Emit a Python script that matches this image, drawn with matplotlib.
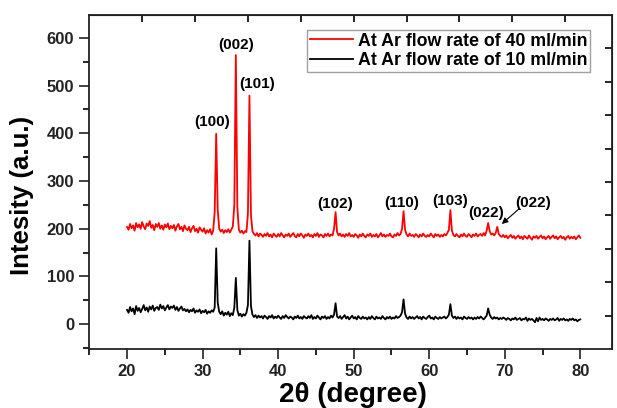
import numpy as np
import matplotlib
matplotlib.use("Agg")
import matplotlib.pyplot as plt

plt.rcParams['font.family'] = ['Liberation Sans', 'DejaVu Sans']
plt.rcParams['font.weight'] = 'bold'

# 2theta grid, 0.2 degree step from 20 to 80
two_theta = np.linspace(20.0, 80.0, 301)

# Ar flow 40 ml/min (red)
ar40 = [
    204, 198, 210, 201, 207, 196, 212, 203, 209, 200,
    214, 205, 199, 211, 206, 216, 202, 208, 197, 210,
    204, 212, 200, 207, 198, 209, 203, 211, 199, 206,
    201, 208, 196, 205, 210, 199, 204, 195, 207, 200,
    197, 204, 193, 201, 206, 195, 200, 192, 203, 198,
    194, 201, 190, 197, 192, 199, 188, 196, 235, 399,
    240, 200, 194, 198, 191, 197, 193, 199, 192, 198,
    205, 250, 564, 245, 198, 192, 196, 190, 195, 193,
    232, 479, 228, 195, 189, 186, 191, 184, 190, 187,
    183, 189, 185, 191, 184, 188, 182, 190, 186, 183,
    189, 184, 191, 186, 182, 188, 185, 190, 183, 187,
    191, 185, 182, 189, 184, 190, 186, 181, 188, 185,
    190, 184, 187, 182, 189, 185, 191, 183, 188, 186,
    182, 189, 185, 190, 184, 188, 186, 200, 235, 193,
    186, 190, 184, 188, 183, 189, 185, 191, 184, 187,
    183, 189, 186, 181, 188, 184, 190, 185, 182, 188,
    185, 190, 183, 187, 184, 189, 182, 186, 191, 184,
    188, 183, 187, 185, 190, 184, 182, 188, 185, 191,
    186, 189, 200, 237, 198, 188, 184, 190, 185, 187,
    183, 189, 186, 182, 188, 184, 190, 185, 183, 187,
    184, 190, 186, 182, 189, 185, 188, 183, 187, 184,
    189, 186, 191, 198, 239, 196, 187, 184, 189, 185,
    182, 188, 184, 190, 185, 183, 189, 186, 182, 188,
    185, 190, 184, 187, 189, 185, 191, 186, 196, 212,
    195, 188, 190, 186, 191, 204, 189, 185, 183, 187,
    182, 186, 180, 184, 187, 181, 185, 179, 183, 186,
    180, 184, 178, 185, 182, 179, 186, 181, 177, 184,
    181, 185, 179, 183, 186, 180, 184, 178, 182, 185,
    179, 183, 186, 180, 184, 178, 182, 185, 180, 183,
    177, 182, 185, 179, 183, 180, 184, 178, 182, 186,
    181,
]

# Ar flow 10 ml/min (black)
ar10 = [
    30, 24, 36, 27, 33, 21, 38, 28, 34, 25,
    32, 40, 29, 35, 26, 37, 31, 39, 28, 34,
    36, 30, 41, 33, 38, 29, 35, 40, 31, 37,
    34, 39, 30, 36, 28, 33, 37, 29, 32, 27,
    31, 25, 30, 27, 33, 24, 29, 26, 31, 23,
    28, 25, 30, 22, 27, 24, 29, 26, 35, 159,
    45, 26, 21, 27, 18, 24, 20, 26, 17, 23,
    19, 35, 97, 30, 18, 22, 16, 21, 18, 24,
    40, 175, 38, 20, 15, 19, 13, 18, 14, 17,
    12, 18, 15, 11, 17, 14, 19, 12, 16, 13,
    18, 14, 11, 17, 13, 19, 15, 12, 16, 14,
    10, 16, 13, 18, 12, 15, 11, 17, 14, 12,
    17, 13, 19, 11, 15, 12, 18, 14, 10, 16,
    13, 17, 11, 15, 12, 18, 14, 20, 44, 16,
    13, 17, 11, 15, 19, 12, 16, 10, 14, 18,
    12, 15, 10, 17, 13, 11, 16, 12, 14, 10,
    15, 11, 17, 13, 10, 16, 12, 14, 11, 17,
    13, 10, 15, 12, 16, 11, 14, 12, 17, 13,
    15, 18, 25, 52, 22, 14, 11, 16, 12, 15,
    11, 14, 17, 12, 15, 10, 16, 13, 11, 15,
    18, 12, 14, 10, 16, 13, 11, 15, 12, 14,
    16, 12, 15, 20, 42, 18, 13, 16, 11, 15,
    12, 14, 10, 16, 13, 11, 15, 12, 14, 10,
    14, 11, 15, 12, 16, 13, 10, 14, 18, 33,
    20, 14, 11, 15, 12, 14, 10, 13, 11, 14,
    12, 9, 13, 11, 8, 12, 10, 14, 9, 11,
    13, 8, 11, 10, 14, 7, 12, 9, 11, 8,
    4, 13, 6, 14, 9, 11, 8, 12, 10, 7,
    11, 9, 12, 8, 10, 13, 7, 11, 9, 12,
    8, 10, 7, 11, 9, 12, 8, 10, 6, 9,
    10,
]

# peak labels and where they sit
peak_labels = ['(100)', '(002)', '(101)', '(102)', '(110)', '(103)', '(022)', '(022)']
label_x = [31.25, 34.5, 37.2, 47.6, 56.4, 62.7, 67.5, 73.7]
label_y = [424, 585, 503, 252, 254, 259, 232, 253]

fig = plt.figure(figsize=(6.17, 4.08), dpi=100)
ax = fig.add_axes([0.1447, 0.1446, 0.8473, 0.8186])

ax.plot(two_theta, ar40, color='#ff0000', lw=1.3, label='At Ar flow rate of 40 ml/min')
ax.plot(two_theta, ar10, color='black', lw=1.3, label='At Ar flow rate of 10 ml/min')

for lab, lx, ly in zip(peak_labels, label_x, label_y):
    ax.text(lx, ly, lab, ha='center', va='center', fontsize=11, fontweight='bold')

# arrow pointing at the small (022) shoulder
ax.annotate('', xy=(69.6, 210), xytext=(71.9, 242),
            arrowprops=dict(arrowstyle='-|>', color='black', lw=0.8,
                            mutation_scale=9, shrinkA=0, shrinkB=0))

ax.set_xlim(15, 84.2)
ax.set_ylim(-52, 648)
ax.set_xticks([20, 30, 40, 50, 60, 70, 80])
ax.set_xticks(np.arange(15, 85, 5), minor=True)
ax.set_yticks([0, 100, 200, 300, 400, 500, 600])
ax.set_yticks(np.arange(-50, 650, 50), minor=True)
ax.set_xticklabels(['20', '30', '40', '50', '60', '70', '80'], fontweight='bold')
ax.set_yticklabels(['0', '100', '200', '300', '400', '500', '600'], fontweight='bold')
ax.tick_params(which='major', direction='out', length=7, width=1.2,
               labelsize=12, colors='#222222', pad=4)
ax.tick_params(which='minor', direction='out', length=4, width=1.2)

for s in ax.spines.values():
    s.set_linewidth(1.3)
    s.set_color('#222222')

# mirrored top / right axes with their own tick spacing
top = ax.secondary_xaxis('top')
top.set_xticks([22, 29, 36, 43, 50, 57, 64, 71, 78])
top.set_xticklabels([])
top.tick_params(direction='in', length=5, width=1.2)
right = ax.secondary_yaxis('right')
right.set_yticks([18, 88, 158, 228, 298, 368, 438, 508, 578])
right.set_yticklabels([])
right.tick_params(direction='in', length=5, width=1.2)

ax.set_xlabel('2θ (degree)', fontsize=20, fontweight='bold', va='center')
ax.xaxis.set_label_coords(0.5035, -0.138)
ax.set_ylabel('Intesity (a.u.)', fontsize=18.5, fontweight='bold', va='center')
ax.yaxis.set_label_coords(-0.129, 0.46)

leg = ax.legend(loc='upper right', bbox_to_anchor=(0.958, 0.955), fontsize=12.8,
                frameon=True, fancybox=False, edgecolor='#888888', borderpad=0.15,
                handlelength=2.4, handletextpad=0.3, labelspacing=0.15,
                borderaxespad=0)
leg.get_frame().set_linewidth(1.0)
for t in leg.get_texts():
    t.set_fontweight('bold')

fig.savefig('out.png', dpi=100)
